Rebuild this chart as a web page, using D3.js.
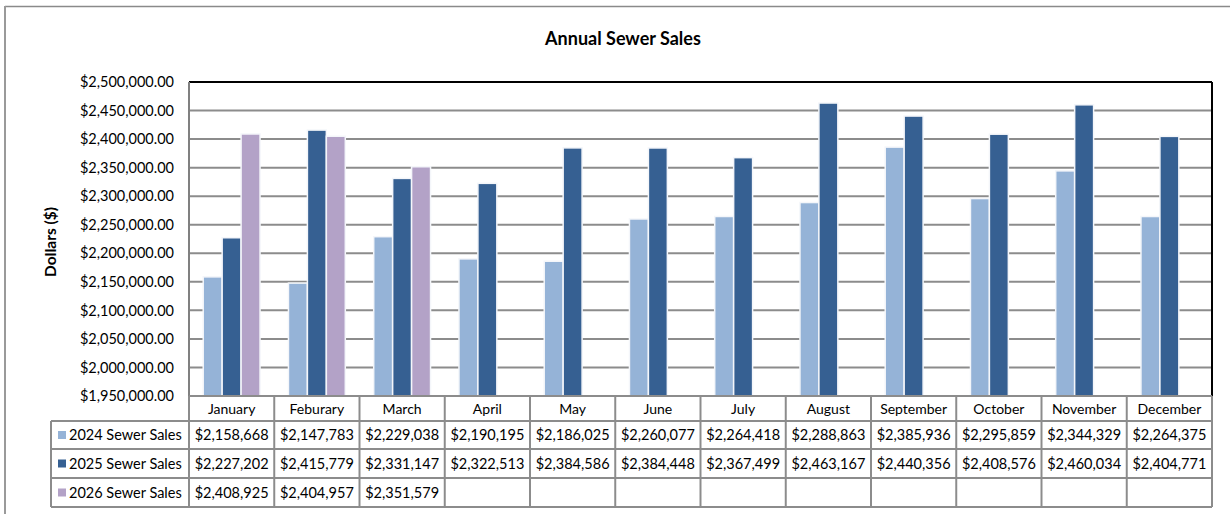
<!DOCTYPE html>
<html>
<head>
<meta charset="utf-8">
<script src="https://cdn.jsdelivr.net/npm/d3@7"></script>
<style>
  body { margin: 0; background: #fff; }
  svg { display: block; font-family: Lato, "Liberation Sans", sans-serif; }
</style>
</head>
<body>
<svg id="canvas" width="1230" height="514"></svg>
<script>
let months = ["January", "Feburary", "March", "April", "May", "June", "July", "August", "September", "October", "November", "December"]
let seriesNames = ["2024 Sewer Sales", "2025 Sewer Sales", "2026 Sewer Sales"]
let sales2024 = [2158668, 2147783, 2229038, 2190195, 2186025, 2260077, 2264418, 2288863, 2385936, 2295859, 2344329, 2264375]
let sales2025 = [2227202, 2415779, 2331147, 2322513, 2384586, 2384448, 2367499, 2463167, 2440356, 2408576, 2460034, 2404771]
let sales2026 = [2408925, 2404957, 2351579]
let seriesColors = ["#95b3d7", "#366092", "#b3a2c7"]
let yTicks = [1950000, 2000000, 2050000, 2100000, 2150000, 2200000, 2250000, 2300000, 2350000, 2400000, 2450000, 2500000]

let allSeries = [sales2024, sales2025, sales2026]

let canvas = d3.select("#canvas")
const gridGray = "#8c8c8c"

// plot area
const plotLeft = 189, plotRight = 1212, plotTop = 82, plotBottom = 396
const rowTops = [396, 421, 449, 478, 507]
const legendLeft = 51

let x = d3.scaleBand().domain(months).range([plotLeft, plotRight])
let bw = x.bandwidth()
let barW = bw / 4.5
let xInner = d3.scaleBand().domain(seriesNames).range([barW * 0.75, bw - barW * 0.75])
let y = d3.scaleLinear().domain([1950000, 2500000]).range([plotBottom, plotTop])

// outer chart frame
canvas.append("rect").attr("width", 1230).attr("height", 514).attr("fill", "#fff")
canvas.append("line").attr("x1", 5).attr("x2", 1230).attr("y1", 6.5).attr("y2", 6.5)
  .attr("stroke", "#8a8a8a").attr("stroke-width", 1.5)
canvas.append("line").attr("x1", 5).attr("x2", 5).attr("y1", 6).attr("y2", 514)
  .attr("stroke", "#9a9a9a").attr("stroke-width", 2)

// title
canvas.append("text")
  .attr("x", 623).attr("y", 45)
  .attr("text-anchor", "middle")
  .style("font-weight", "bold").style("font-size", "18px")
  .text("Annual Sewer Sales")

// y axis title
canvas.append("text")
  .attr("transform", "translate(56," + ((plotTop + plotBottom) / 2 + 3) + ") rotate(-90)")
  .attr("text-anchor", "middle")
  .style("font-weight", "bold").style("font-size", "15.5px")
  .text("Dollars ($)")

// gridlines
canvas.append("g").selectAll("line")
  .data(yTicks.slice(1, -1))
  .enter().append("line")
  .attr("x1", plotLeft).attr("x2", plotRight)
  .attr("y1", d => y(d)).attr("y2", d => y(d))
  .attr("stroke", gridGray).attr("stroke-width", 2)

// y tick labels
let yAxis = d3.axisLeft(y).tickValues(yTicks).tickSize(0).tickPadding(15)
  .tickFormat(d => "$" + d3.format(",.2f")(d))
let yAxisG = canvas.append("g").attr("transform", "translate(" + plotLeft + ",0)").call(yAxis)
yAxisG.select(".domain").remove()
yAxisG.selectAll("text").style("font-size", "14.5px").style("font-family", "Lato, sans-serif").attr("fill", "#000")

// bars
let groups = canvas.append("g").selectAll("g")
  .data(months)
  .enter().append("g")
  .attr("transform", d => "translate(" + x(d) + ",0)")

groups.selectAll("rect")
  .data((m, i) => allSeries.map((s, k) => ({ name: seriesNames[k], value: s[i], k: k })).filter(d => d.value !== undefined))
  .enter().append("rect")
  .attr("x", d => xInner(d.name))
  .attr("width", xInner.bandwidth())
  .attr("y", d => y(d.value))
  .attr("height", d => plotBottom - y(d.value))
  .attr("fill", d => seriesColors[d.k])
  .attr("stroke", "#f4f6fa").attr("stroke-width", 1.5)

// plot border
canvas.append("line").attr("x1", plotLeft).attr("x2", plotRight).attr("y1", plotTop).attr("y2", plotTop)
  .attr("stroke", "#000").attr("stroke-width", 2)
canvas.append("line").attr("x1", plotRight).attr("x2", plotRight).attr("y1", plotTop).attr("y2", plotBottom)
  .attr("stroke", "#000").attr("stroke-width", 2)
canvas.append("line").attr("x1", plotLeft).attr("x2", plotLeft).attr("y1", plotTop).attr("y2", plotBottom)
  .attr("stroke", "#808080").attr("stroke-width", 2)

// data table
let table = canvas.append("g")
table.selectAll("line.h")
  .data(rowTops)
  .enter().append("line")
  .attr("class", "h")
  .attr("x1", (d, i) => i < 1 ? plotLeft : legendLeft).attr("x2", plotRight)
  .attr("y1", d => d).attr("y2", d => d)
  .attr("stroke", gridGray).attr("stroke-width", 2)

let colEdges = months.map(m => x(m)).concat([plotRight])
table.selectAll("line.v")
  .data(colEdges)
  .enter().append("line")
  .attr("class", "v")
  .attr("x1", d => d).attr("x2", d => d)
  .attr("y1", rowTops[0]).attr("y2", rowTops[4])
  .attr("stroke", gridGray).attr("stroke-width", 2)
table.append("line")
  .attr("x1", legendLeft).attr("x2", legendLeft)
  .attr("y1", rowTops[1]).attr("y2", rowTops[4])
  .attr("stroke", gridGray).attr("stroke-width", 2)

table.selectAll("text.month")
  .data(months)
  .enter().append("text")
  .attr("class", "month")
  .attr("x", d => x(d) + bw / 2)
  .attr("y", (rowTops[0] + rowTops[1]) / 2 + 5)
  .attr("text-anchor", "middle")
  .style("font-size", "14px")
  .text(d => d)

allSeries.forEach((s, k) => {
  let rowMid = (rowTops[k + 1] + rowTops[k + 2]) / 2
  table.append("rect")
    .attr("x", 58).attr("y", rowMid - 4)
    .attr("width", 8).attr("height", 8)
    .attr("fill", seriesColors[k])
  table.append("text")
    .attr("x", 69).attr("y", rowMid + 5)
    .style("font-size", "14.5px")
    .text(seriesNames[k])
  table.selectAll("text.v" + k)
    .data(s)
    .enter().append("text")
    .attr("class", "v" + k)
    .attr("x", (d, i) => x(months[i]) + bw / 2)
    .attr("y", rowMid + 5)
    .attr("text-anchor", "middle")
    .style("font-size", "14.5px")
    .text(d => "$" + d3.format(",")(d))
})
</script>
</body>
</html>
